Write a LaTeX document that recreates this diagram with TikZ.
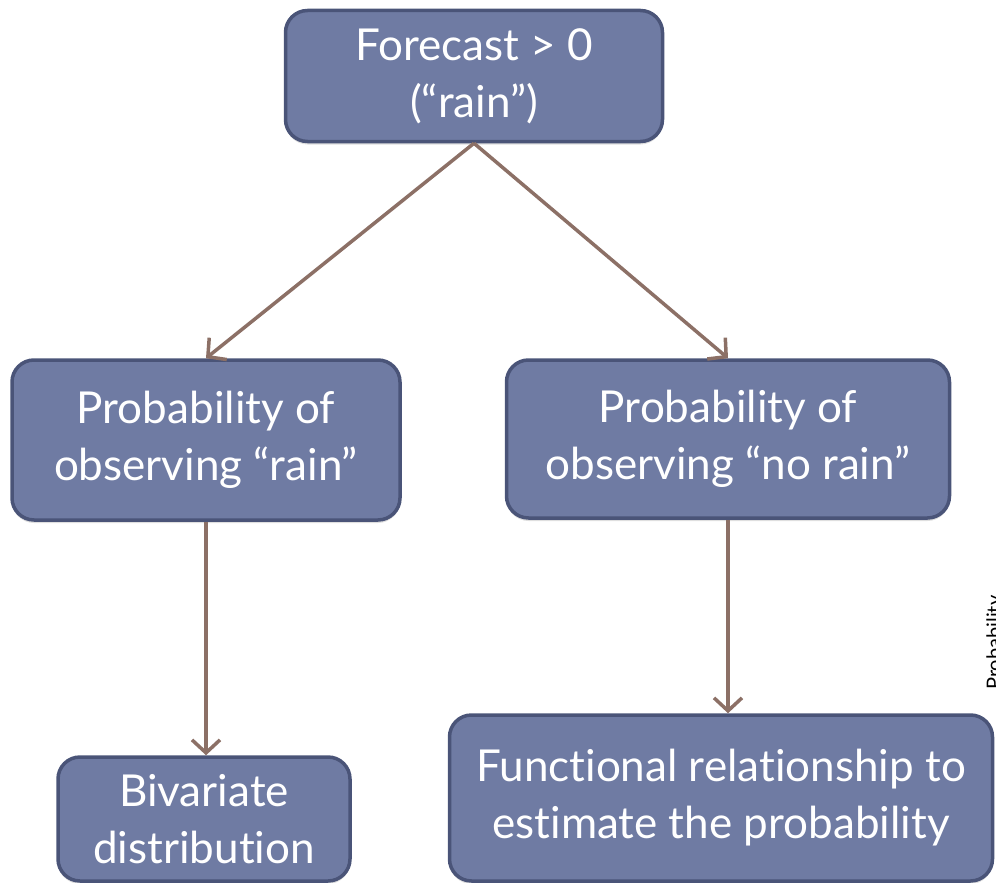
\documentclass[tikz,border=0pt]{standalone}
\usepackage{fontspec}
\setmainfont{Lato}[Ligatures=NoCommon]
\usetikzlibrary{arrows.meta,shadows}
\definecolor{boxfill}{RGB}{111,123,163}
\definecolor{boxline}{RGB}{74,84,120}
\definecolor{arrcol}{RGB}{140,112,102}
\begin{document}
\begin{tikzpicture}[x=1pt,y=-1pt,
  box/.style={draw=boxline, line width=3.5pt, fill=boxfill, rounded corners=22pt,
    text=white, align=center, inner sep=0pt,
    font=\fontsize{44}{57}\selectfont,
    drop shadow={opacity=0.25, shadow xshift=0pt, shadow yshift=-3pt}},
  arr/.style={draw=arrcol, line width=3.5pt,
    -{Straight Barb[length=13pt,width=28pt,line width=3.5pt]}}]
\useasboundingbox (0,0) rectangle (996,883);
\node[box, minimum width=377pt, minimum height=131pt] (top) at (474,76) {Forecast > 0\\(“rain”)};
\node[box, minimum width=388pt, minimum height=160pt] (lmid) at (206,440) {Probability of\\observing “rain”};
\node[box, minimum width=443pt, minimum height=158pt] (rmid) at (728,439) {Probability of\\observing “no rain”};
\node[box, minimum width=292pt, minimum height=124pt] (bl) at (204,819) {Bivariate\\distribution};
\node[box, minimum width=543pt, minimum height=166pt] (br) at (721,798) {Functional relationship to\\estimate the probability};
\node[rotate=90, anchor=base west, inner sep=0pt, font=\fontsize{20}{24}\selectfont] (prob) at (1001,690) {Probability};
\draw[arr] (top.south) -- (lmid.north);
\draw[arr] (top.south) -- (rmid.north);
\draw[arr] (lmid.south) -- (lmid.south |- bl.north);
\draw[arr] (rmid.south) -- (rmid.south |- br.north);
\end{tikzpicture}
\end{document}
